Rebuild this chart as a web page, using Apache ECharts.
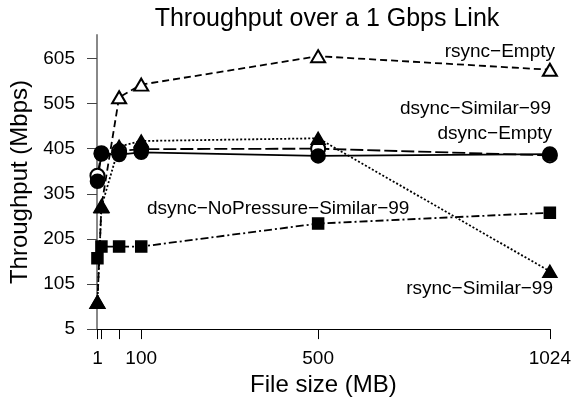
<!DOCTYPE html>
<html>
<head>
<meta charset="utf-8">
<script src="https://cdn.jsdelivr.net/npm/echarts@6/dist/echarts.min.js"></script>
<style>
html, body { margin: 0; padding: 0; background: #fff; }
#chart { width: 574px; height: 402px; }
</style>
</head>
<body>
<div id="chart"></div>
<script>
// file sizes (MB) on the x axis
var fileSizes = [1, 10, 50, 100, 500, 1024];
var xTicks = [1, 10, 50, 100, 500, 1024];
var xLabels = [1, 100, 500, 1024];
var yTicks = [5, 105, 205, 305, 405, 505, 605];

// throughput (Mbps)
var rsyncEmpty = [65, 278, 519, 547, 610, 580];
var rsyncSimilar = [65, 276, 410, 422, 428, 133];
var dsyncEmpty = [345, 395, 400, 404, 405, 390];
var dsyncSimilar = [333, 393, 392, 397, 389, 393];
var dsyncNoPressure = [162, 188, 188, 188, 239, 263];

var font = 'Liberation Sans, Arial, Helvetica, sans-serif';

var pairs = function (ys) {
    var res = [];
    for (var i = 0; i < fileSizes.length; i++) {
        res.push([fileSizes[i], ys[i]]);
    }
    return res;
};

var mkSeries = function (name, ys, symbol, size, dash) {
    return {
        name: name,
        type: 'line',
        data: pairs(ys),
        symbol: symbol,
        symbolSize: size,
        showAllSymbol: true,
        lineStyle: { color: '#000', width: 1.8, type: dash },
        itemStyle: { color: '#000', borderColor: '#000', borderWidth: 1.5 },
        emphasis: { disabled: true }
    };
};

var series = [
    mkSeries('dsync-Empty', dsyncEmpty, 'emptyCircle', 14, [13, 4]),
    mkSeries('dsync-Similar-99', dsyncSimilar, 'circle', 14, 'solid'),
    mkSeries('rsync-Empty', rsyncEmpty, 'emptyTriangle', [14, 12], [7, 4]),
    mkSeries('rsync-Similar-99', rsyncSimilar, 'triangle', [14, 12], [2, 2]),
    mkSeries('dsync-NoPressure-Similar-99', dsyncNoPressure, 'rect', 11, [8, 3, 2, 3])
];

var lbl = function (text, x, y, align) {
    return {
        type: 'text', x: x, y: y,
        style: { text: text, font: '19px ' + font, fill: '#000', align: align, verticalAlign: 'middle' }
    };
};

var option = {
    animation: false,
    backgroundColor: '#fff',
    title: {
        text: 'Throughput over a 1 Gbps Link',
        left: 322, top: 2, textAlign: 'center',
        textStyle: { fontFamily: font, fontSize: 25, fontWeight: 'normal', color: '#000' }
    },
    grid: { left: 93.5, right: 22, top: 35, bottom: 70.5 },
    xAxis: {
        type: 'value', min: 0, max: 1024,
        name: 'File size (MB)', nameLocation: 'middle', nameGap: 40,
        nameTextStyle: { fontFamily: font, fontSize: 24, color: '#000' },
        axisLine: { onZero: false, lineStyle: { color: '#000', width: 1 } },
        axisTick: { customValues: xTicks, length: 10, lineStyle: { color: '#000' } },
        axisLabel: {
            customValues: xLabels, fontFamily: font, fontSize: 19, color: '#000', margin: 20,
            formatter: function (v) { return String(v); }
        },
        splitLine: { show: false }
    },
    yAxis: {
        type: 'value', min: 5, max: 657,
        name: 'Throughput (Mbps)', nameLocation: 'middle', nameGap: 65,
        nameTextStyle: { fontFamily: font, fontSize: 24, color: '#000' },
        axisLine: { show: true, onZero: false, lineStyle: { color: '#888', width: 2 } },
        axisTick: { show: true, customValues: yTicks, length: 10, lineStyle: { color: '#444' } },
        axisLabel: {
            customValues: yTicks, fontFamily: font, fontSize: 19, color: '#000', margin: 22,
            formatter: function (v) { return String(v); }
        },
        splitLine: { show: false }
    },
    graphic: [
        lbl('rsync\u2212Empty', 555, 52, 'right'),
        lbl('dsync\u2212Similar\u221299', 551, 109, 'right'),
        lbl('dsync\u2212Empty', 552, 134, 'right'),
        lbl('dsync\u2212NoPressure\u2212Similar\u221299', 147, 209, 'left'),
        lbl('rsync\u2212Similar\u221299', 553, 289, 'right')
    ],
    series: series
};

var myChart = echarts.init(document.getElementById('chart'));
myChart.setOption(option);
</script>
</body>
</html>
